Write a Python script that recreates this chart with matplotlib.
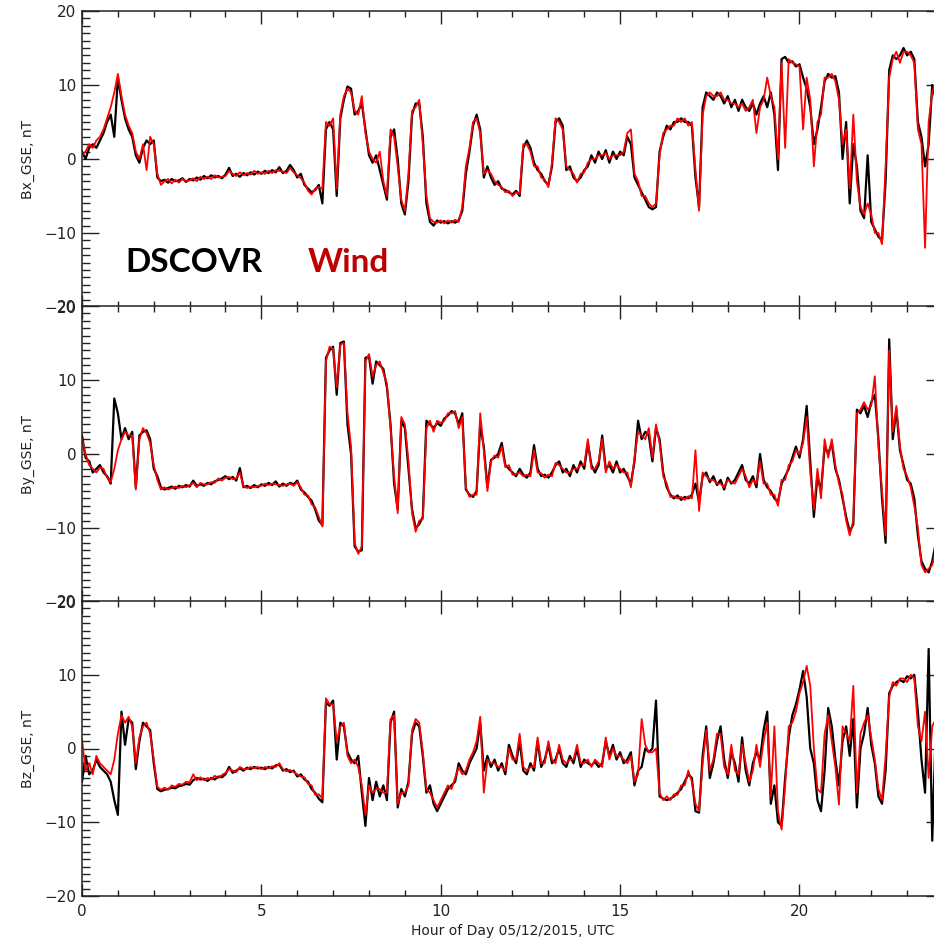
import numpy as np
import matplotlib
matplotlib.use("Agg")
import matplotlib.pyplot as plt
from matplotlib.ticker import MultipleLocator

# sample times, one value every 0.1 h
hours = np.arange(240) * 0.1

# Bx_GSE (nT)
bx_dscovr = [
    1.0, 0.0, 1.5, 2.0, 1.5, 2.5, 3.5, 5.0, 6.0, 3.0,
    11.0, 8.0, 5.5, 4.0, 3.0, 0.5, -0.5, 1.5, 2.5, 2.0,
    2.5, -2.5, -3.0, -2.8, -3.2, -2.7, -3.0, -2.9, -2.6, -3.1,
    -2.7, -2.9, -2.5, -2.8, -2.3, -2.6, -2.2, -2.5, -2.3, -2.6,
    -2.1, -1.2, -2.3, -2.0, -2.4, -1.9, -2.2, -1.8, -2.1, -1.7,
    -2.0, -1.6, -1.9, -1.5, -1.8, -1.1, -1.9, -1.6, -0.8, -1.5,
    -2.5, -2.0, -3.5, -4.0, -4.5, -4.2, -3.5, -6.0, 4.0, 5.0,
    4.0, -5.0, 5.5, 8.0, 9.8, 9.5, 6.0, 6.5, 7.5, 4.0,
    0.5, -0.5, 0.5, -1.5, -3.5, -5.5, 3.0, 4.0, 0.0, -6.0,
    -7.5, -3.0, 6.0, 7.5, 7.5, 3.0, -6.0, -8.5, -9.0, -8.3,
    -8.6, -8.4, -8.7, -8.4, -8.6, -8.3, -7.0, -2.0, 1.0, 4.5,
    6.0, 4.0, -2.5, -1.0, -2.5, -3.5, -3.0, -4.0, -4.2, -4.5,
    -4.8, -4.3, -5.0, 1.5, 2.5, 1.5, -0.5, -1.5, -2.0, -3.0,
    -3.5, -1.0, 5.0, 5.5, 4.5, -1.5, -1.0, -2.5, -3.0, -2.5,
    -1.5, -1.0, 0.5, -0.5, 1.0, 0.0, 1.2, -0.5, 1.0, 0.0,
    1.0, 0.5, 3.0, 2.0, -2.5, -3.5, -4.5, -5.5, -6.5, -6.8,
    -6.5, 1.0, 3.0, 4.5, 4.0, 5.0, 5.0, 5.5, 5.0, 5.0,
    4.5, -2.5, -6.5, 7.0, 9.0, 8.5, 8.0, 9.0, 8.5, 7.5,
    8.5, 7.0, 8.0, 6.5, 8.0, 7.0, 6.5, 7.5, 6.0, 7.5,
    8.5, 7.0, 9.0, 6.0, -1.5, 13.5, 13.8, 13.0, 13.2, 12.5,
    12.8, 11.0, 9.5, 7.0, 2.0, 4.0, 7.0, 10.5, 11.5, 11.0,
    11.2, 9.0, 0.0, 5.0, -6.0, 2.0, -1.0, -7.0, -8.0, 0.5,
    -8.5, -9.5, -10.5, -11.0, -3.0, 12.0, 14.0, 13.5, 14.0, 15.0,
    14.0, 14.5, 13.5, 5.0, 3.0, -1.0, 2.0, 10.0, 8.0, 5.0,
]
bx_wind = [
    0.5, 1.0, 2.0, 1.5, 2.5, 3.0, 4.0, 5.5, 7.0, 9.0,
    11.5, 8.5, 6.0, 4.5, 3.5, 1.0, 0.0, 2.0, -1.5, 3.0,
    2.0, -2.0, -3.5, -3.0, -2.7, -3.3, -2.8, -3.2, -2.7, -3.0,
    -2.9, -2.6, -3.0, -2.4, -2.7, -2.4, -2.7, -2.2, -2.5, -2.4,
    -2.3, -1.6, -2.0, -2.3, -1.8, -2.2, -1.9, -2.1, -1.6, -2.0,
    -1.8, -2.0, -1.6, -1.9, -1.5, -1.6, -1.7, -1.9, -1.2, -1.8,
    -2.2, -2.6, -3.2, -4.3, -4.8, -4.0, -3.8, -4.0, 5.0, 4.5,
    5.5, -4.0, 6.0, 8.5, 9.5, 9.0, 6.5, 6.0, 8.5, 3.5,
    1.0, 0.0, -0.5, 1.0, -3.0, -5.0, 4.0, 3.0, -1.0, -5.5,
    -7.0, -2.0, 6.5, 7.0, 8.0, 2.0, -5.0, -8.0, -8.5, -8.6,
    -8.3, -8.7, -8.3, -8.6, -8.2, -8.5, -6.5, -1.0, 1.5, 5.0,
    5.5, 3.5, -2.0, -1.5, -2.0, -3.0, -3.5, -3.8, -4.5, -4.3,
    -5.0, -4.5, -4.7, 2.0, 2.0, 1.0, -1.0, -1.0, -2.5, -2.8,
    -3.8, -0.5, 5.5, 5.0, 4.0, -1.0, -1.5, -2.0, -3.2, -2.0,
    -1.8, -0.5, 0.0, 0.0, 0.5, 0.5, 0.8, 0.0, 0.5, 0.5,
    0.5, 1.0, 3.5, 4.0, -2.0, -3.0, -5.0, -5.0, -6.0, -6.5,
    -6.0, 0.5, 3.5, 4.0, 4.5, 4.5, 5.5, 5.0, 5.5, 4.5,
    5.0, -1.5, -7.0, 6.0, 8.5, 9.0, 8.5, 8.5, 9.0, 8.0,
    8.0, 7.5, 7.5, 7.0, 7.5, 6.5, 7.0, 8.0, 3.5, 7.0,
    8.0, 11.0, 8.5, 7.0, 0.0, 13.0, 1.5, 13.5, 13.0, 12.8,
    12.5, 4.0, 11.0, 8.0, -1.0, 5.0, 6.0, 11.0, 11.0, 11.5,
    10.5, 8.0, 2.0, 4.0, -4.0, 6.0, -3.0, -6.5, -7.5, -6.0,
    -7.5, -10.0, -10.0, -11.5, -1.0, 11.0, 13.5, 14.5, 13.0, 14.5,
    14.5, 14.0, 13.0, 4.0, 2.0, -12.0, 5.0, 9.0, 10.5, 6.0,
]

# By_GSE (nT)
by_dscovr = [
    2.5, -0.5, -1.0, -2.5, -2.0, -1.5, -2.5, -3.0, -4.0, 7.5,
    5.5, 2.0, 3.5, 2.0, 3.0, -4.5, 2.5, 3.0, 3.2, 2.0,
    -2.0, -3.0, -4.5, -4.8, -4.6, -4.4, -4.7, -4.3, -4.5, -4.2,
    -4.4, -3.6, -4.3, -4.1, -4.3, -3.9, -4.1, -3.7, -3.5, -3.3,
    -3.0, -3.4, -3.1, -3.6, -1.9, -4.5, -4.3, -4.6, -4.2, -4.5,
    -4.1, -4.3, -3.9, -4.2, -3.7, -4.4, -4.0, -4.3, -3.9, -4.1,
    -3.6, -4.8, -5.2, -5.8, -6.3, -7.5, -9.0, -9.6, 13.0, 14.0,
    14.5, 8.0, 15.0, 15.2, 4.0, 0.0, -12.5, -13.2, -13.0, 13.0,
    13.2, 9.5, 12.5, 12.0, 11.5, 9.0, 4.0, -4.0, -7.5, 4.5,
    3.5, -2.0, -7.5, -10.0, -9.5, -8.5, 4.5, 4.0, 3.5, 4.2,
    3.8, 4.8, 5.2, 5.8, 5.5, 4.0, 5.5, -4.8, -5.5, -5.8,
    -5.0, 4.0, 1.0, -4.5, -0.8, -0.5, 0.0, 1.5, -1.5, -2.0,
    -2.5, -3.0, -2.0, -2.8, -3.2, -2.5, 1.2, -2.0, -3.0, -2.8,
    -3.2, -2.5, -1.5, -1.0, -2.5, -2.0, -3.0, -1.5, -2.5, -1.0,
    -2.0, 1.5, -1.5, -2.5, -1.5, 2.5, -2.0, -1.5, -2.5, -1.0,
    -2.5, -2.0, -3.0, -4.0, -1.0, 4.5, 2.0, 3.0, 2.5, -1.0,
    3.5, 2.0, -2.5, -4.5, -5.5, -6.0, -5.6, -6.2, -5.8, -6.0,
    -5.5, -4.0, -6.5, -3.0, -2.5, -3.8, -3.0, -4.2, -3.5, -4.8,
    -3.2, -4.0, -3.5, -2.5, -1.5, -3.5, -4.0, -3.0, -4.5, 0.0,
    -3.5, -4.5, -5.0, -6.0, -6.5, -4.0, -3.0, -2.0, -0.5, 1.0,
    -0.5, 2.0, 6.5, -1.0, -8.5, -3.0, -5.0, 1.0, 0.0, 1.5,
    -2.0, -3.5, -6.0, -8.5, -10.5, -9.5, 6.0, 5.5, 6.5, 5.0,
    7.0, 8.0, 2.0, -6.0, -12.0, 15.5, 2.0, 6.0, 0.5, -1.5,
    -3.5, -4.0, -6.0, -11.0, -14.5, -15.5, -16.0, -14.5, -12.0, -10.0,
]
by_wind = [
    2.0, 0.0, -1.5, -2.0, -2.5, -1.8, -2.0, -3.2, -3.8, -2.0,
    0.5, 2.0, 3.0, 2.5, 2.5, -4.8, 2.0, 3.5, 2.8, 1.5,
    -1.5, -3.5, -4.8, -4.5, -4.8, -4.6, -4.4, -4.6, -4.3, -4.5,
    -4.2, -3.9, -4.5, -3.9, -4.1, -4.1, -3.8, -3.9, -3.3, -3.6,
    -3.2, -3.1, -3.4, -3.3, -2.5, -4.3, -4.6, -4.4, -4.5, -4.3,
    -4.3, -4.0, -4.2, -4.0, -4.1, -4.2, -4.3, -4.1, -4.0, -4.3,
    -3.8, -4.5, -5.5, -5.6, -6.8, -7.2, -8.5, -9.8, 12.5, 14.5,
    14.2, 9.0, 14.8, 15.0, 5.5, 1.0, -12.0, -13.5, -12.5, 12.5,
    13.5, 10.5, 12.0, 12.5, 11.0, 9.5, 3.5, -3.0, -8.0, 5.0,
    4.0, -1.0, -8.0, -10.5, -9.0, -8.8, 3.5, 4.5, 3.0, 4.5,
    4.2, 4.5, 5.5, 5.5, 5.8, 3.5, 5.0, -4.5, -5.8, -5.5,
    -5.5, 5.5, 0.5, -5.0, -1.0, -0.2, -0.5, 1.0, -1.8, -1.5,
    -2.8, -2.7, -2.5, -3.0, -2.8, -3.0, 0.5, -2.5, -2.6, -3.2,
    -2.8, -3.0, -1.2, -1.5, -2.0, -2.5, -2.5, -2.0, -2.0, -1.5,
    -1.5, 2.0, -2.0, -2.0, -1.0, 2.0, -2.5, -1.0, -2.0, -1.5,
    -2.0, -2.5, -2.5, -4.5, -0.5, 3.0, 2.5, 2.0, 3.5, -0.5,
    4.0, 1.5, -3.0, -4.0, -5.8, -5.7, -6.0, -5.8, -6.2, -5.7,
    -6.0, 0.5, -7.7, -2.5, -3.0, -3.5, -3.5, -4.0, -4.0, -4.5,
    -3.5, -3.8, -4.0, -3.0, -2.0, -3.0, -4.5, -3.5, -4.0, -1.0,
    -4.0, -4.0, -5.5, -5.5, -7.0, -3.5, -3.5, -1.5, -1.0, 0.5,
    0.0, 1.5, 5.0, -2.5, -7.5, -2.0, -6.0, 2.0, -0.5, 2.0,
    -1.5, -4.0, -5.5, -9.0, -11.0, -9.0, 5.5, 6.0, 7.0, 6.0,
    6.5, 10.5, 1.0, -5.0, -11.0, 14.0, 3.0, 6.5, 1.0, -2.0,
    -3.0, -4.5, -7.0, -10.0, -15.0, -16.0, -15.5, -15.0, -13.0, -9.0,
]

# Bz_GSE (nT)
bz_dscovr = [
    -4.5, -1.0, -3.5, -3.0, -1.5, -2.5, -3.0, -3.5, -4.5, -7.0,
    -9.0, 5.0, 0.5, 4.0, 3.5, -2.8, 1.0, 3.5, 3.0, 2.5,
    -2.0, -5.5, -5.8, -5.6, -5.5, -5.3, -5.4, -5.1, -5.0, -4.8,
    -4.9, -4.3, -4.0, -4.2, -4.1, -4.4, -4.0, -4.2, -3.8, -3.9,
    -3.5, -2.5, -3.3, -3.0, -2.7, -3.0, -2.6, -2.8, -2.5, -2.7,
    -2.6, -2.8, -2.5, -2.7, -2.3, -2.2, -3.0, -2.8, -3.2, -3.0,
    -3.8, -3.5, -4.2, -4.5, -5.5, -6.0, -6.8, -7.3, 6.2, 5.8,
    6.5, -1.5, 3.5, 3.0, -0.5, -1.5, -2.0, -1.0, -6.0, -10.5,
    -4.0, -7.0, -4.5, -6.5, -5.0, -7.0, 3.5, 5.0, -8.0, -5.5,
    -6.5, -4.5, 2.0, 3.5, 3.0, -1.0, -6.0, -5.0, -7.5, -8.5,
    -7.5, -6.5, -5.5, -5.0, -4.5, -2.0, -3.0, -3.5, -2.0, -1.0,
    0.0, 3.5, -3.0, -1.0, -2.5, -1.5, -3.0, -2.0, -3.5, 0.5,
    -1.0, -2.0, 1.0, -3.0, -3.5, -2.0, -3.0, 1.0, -2.5, -1.5,
    0.5, -2.0, -1.5, 0.0, -2.0, -2.5, -1.0, -2.0, 0.0, -2.5,
    -1.5, -2.0, -2.3, -1.8, -2.5, -2.0, 1.0, -1.0, 0.5, -1.5,
    -0.5, -2.0, -1.5, -0.5, -5.0, -3.0, -2.5, 0.0, -0.5, 0.0,
    6.5, -6.5, -6.8, -7.0, -6.8, -6.5, -6.0, -5.5, -4.5, -3.5,
    -4.0, -8.5, -8.7, -1.0, 3.0, -4.0, -2.0, 1.0, 3.0, -1.5,
    -4.0, -0.5, -2.0, -4.5, 1.5, -3.0, -5.0, -2.0, -0.5, -1.5,
    2.5, 5.0, -7.5, -5.0, -10.0, -10.5, -4.0, 1.5, 4.5, 6.0,
    8.0, 10.5, 7.0, 0.0, -2.0, -7.0, -8.5, -3.0, 5.5, 3.0,
    -1.5, -5.0, 1.0, 3.0, -1.0, 4.0, -8.0, 0.0, 2.0, 5.5,
    0.5, -2.0, -6.5, -7.5, -3.0, 7.5, 8.5, 9.0, 9.3, 9.0,
    9.8, 9.5, 10.0, 5.0, -1.5, -6.0, 13.5, -12.5, 3.0, 5.0,
]
bz_wind = [
    1.2, -3.0, -2.0, -3.5, -1.0, -2.0, -2.5, -3.0, -3.5, -1.5,
    2.0, 4.5, 3.5, 4.3, 3.0, -2.0, 1.5, 3.0, 3.5, 2.0,
    -1.5, -5.2, -5.6, -5.3, -5.6, -5.0, -5.2, -4.8, -4.9, -4.5,
    -4.6, -3.5, -4.3, -3.9, -4.3, -4.0, -4.2, -3.7, -4.0, -3.6,
    -3.3, -2.8, -3.0, -3.2, -2.5, -2.8, -2.8, -2.5, -2.7, -2.5,
    -2.8, -2.5, -2.7, -2.4, -2.5, -2.0, -2.8, -3.1, -2.9, -3.2,
    -3.5, -3.8, -3.9, -4.8, -5.0, -6.3, -6.2, -6.8, 6.8, 6.0,
    6.0, 1.0, 3.0, 3.5, -1.0, -2.0, -1.5, -2.5, -5.0, -9.0,
    -5.0, -6.0, -5.5, -5.5, -6.0, -6.0, 4.0, 4.5, -7.5, -6.0,
    -6.0, -5.0, 2.5, 4.0, 3.5, -0.5, -5.5, -6.0, -7.0, -8.0,
    -7.0, -6.0, -5.0, -5.5, -4.0, -2.5, -3.5, -3.0, -1.5, -0.5,
    1.0, 4.3, -6.0, -1.5, -2.0, -2.0, -2.5, -2.5, -3.0, 0.0,
    -1.5, -1.5, 2.0, -2.5, -3.0, -2.5, -2.5, 1.5, -2.0, -2.0,
    1.0, -1.5, -2.0, 0.5, -1.5, -2.0, -1.5, -1.5, 0.5, -2.0,
    -2.0, -1.5, -2.5, -1.5, -2.0, -2.5, 1.5, -1.5, 0.0, -1.0,
    -1.0, -1.5, -2.0, -1.0, -4.5, -3.5, 4.0, 0.5, -0.5, -0.5,
    0.0, -6.0, -7.0, -6.5, -7.0, -6.2, -6.3, -5.0, -5.0, -3.0,
    -4.5, -7.5, -8.5, -2.0, 2.5, -3.0, -1.5, 2.0, 2.0, -2.5,
    -3.5, 0.5, -3.0, -3.5, 0.5, -2.0, -4.5, -3.0, 0.5, -2.5,
    1.0, 3.5, -6.5, 3.0, -8.5, -11.0, -5.0, 3.0, 3.5, 5.0,
    7.5, 9.0, 11.2, 8.5, 0.0, -5.5, -6.0, 2.0, 4.5, 1.0,
    -2.5, -7.6, 3.0, 2.0, 1.0, 8.5, -6.0, 2.0, 3.5, 4.5,
    1.5, -1.5, -5.5, -7.0, -1.0, 7.0, 9.0, 8.5, 9.5, 9.5,
    9.0, 10.0, 9.5, 3.0, 1.0, 5.0, -4.0, 3.0, 4.0, 6.0,
]

panels = [
    ("Bx_GSE, nT", bx_dscovr, bx_wind),
    ("By_GSE, nT", by_dscovr, by_wind),
    ("Bz_GSE, nT", bz_dscovr, bz_wind),
]

W, H = 934, 940
fig = plt.figure(figsize=(W / 100, H / 100), dpi=100)

# panel edges in pixels (top, bottom); axes run a little past the right edge
edges = [(11, 307), (306, 602), (601, 896)]
x0, x1 = 82, 943

for k, (label, dscovr, wind) in enumerate(panels):
    top, bot = edges[k]
    ax = fig.add_axes([x0 / W, 1 - bot / H, (x1 - x0) / W, (bot - top) / H])
    ax.plot(hours, dscovr, color="black", lw=1.6)
    ax.plot(hours, wind, color="red", lw=1.3)
    ax.set_xlim(0, 24)
    ax.set_ylim(-20, 20)
    ax.set_yticks([-20, -10, 0, 10, 20])
    ax.yaxis.set_minor_locator(MultipleLocator(1))
    ax.xaxis.set_major_locator(MultipleLocator(5))
    ax.xaxis.set_minor_locator(MultipleLocator(1))
    ax.tick_params(which="both", direction="in", top=True, right=True,
                   colors="#222222", labelsize=11, width=1.0)
    ax.tick_params(axis="y", which="major", length=12, pad=4)
    ax.tick_params(axis="y", which="minor", length=6)
    ax.tick_params(axis="x", which="major", length=9, pad=6)
    ax.tick_params(axis="x", which="minor", length=4.5)
    for sp in ax.spines.values():
        sp.set_linewidth(1.1)
        sp.set_color("#222222")
    if k < 2:
        ax.set_xticklabels([])
    else:
        ax.set_xlabel("Hour of Day 05/12/2015, UTC", fontsize=10,
                      color="#222222", labelpad=3)
    fig.text(28 / W, 1 - (top + bot) / 2 / H, label, rotation=90,
             ha="center", va="center", fontsize=10, color="#222222")

fig.text(125 / W, 1 - 272 / H, "DSCOVR", fontsize=24, fontweight="bold",
         family="Lato", color="black", ha="left", va="baseline")
fig.text(308 / W, 1 - 272 / H, "Wind", fontsize=24, fontweight="bold",
         family="Lato", color="#c00000", ha="left", va="baseline")

fig.savefig("out.png", dpi=100)
